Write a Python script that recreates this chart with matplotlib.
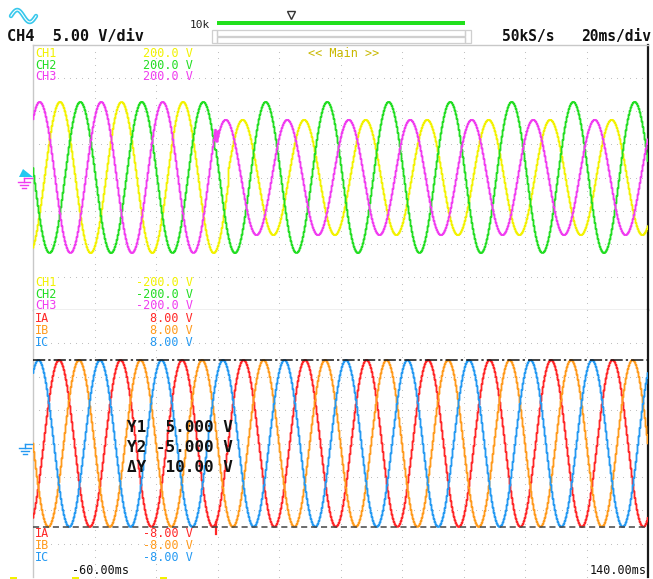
import matplotlib.pyplot as plt
from matplotlib.patches import Rectangle, Polygon
import numpy as np

# SCOPE CAPTURE: 3-phase voltages (top) and currents (bottom), 50 Hz

t_start, t_stop = -60.0, 140.0   # ms, 20 ms/div
freq = 50.0                      # Hz

# voltage channels, +-200 V full scale
volt_names = ['CH1', 'CH2', 'CH3']
volt_colors = ['#f2f200', '#22dd22', '#f03cf0']
volt_amp_pre = [114, 114, 114]
volt_amp_post = [87, 114, 87]
volt_peak_pre = [8.8, 15.4, 2.2]     # ms, time of peak inside a cycle
volt_peak_post = [8.2, 15.7, 2.7]
volt_switch = [3.6, -0.5, -0.5]      # ms, moment the amplitude steps
volt_scale = 200.0

# current channels, +-8 V full scale
curr_names = ['IA', 'IB', 'IC']
curr_colors = ['#ff2626', '#ff9a1c', '#2499f2']
curr_amp = [5.0, 5.0, 5.0]
curr_peak = [8.5, 15.0, 1.8]
curr_scale = 8.0

# disturbance at the switching instant
ch3_glitch_t = [-0.8, -0.2, 0.4]
ch3_glitch_v = [72, 54, 70]
ia_spike_t = -0.4
ia_spike_v = -5.45

# Y cursors on the current traces
cursor_y1, cursor_y2 = 5.0, -5.0

mono = 'DejaVu Sans Mono'
W, H = 653, 579


def wave(t, amp, tp):
    return amp * np.cos(2 * np.pi * freq * (t - tp) / 1000.0)


# one sample per screen column
t = np.arange(t_start, t_stop + 0.01, 200.0 / 615)

fig = plt.figure(figsize=(W / 100, H / 100), dpi=100)
fig.patch.set_facecolor('white')

left, right = 33, 648
top, mid, bottom = 45, 310, 577
ax_v = fig.add_axes([left / W, 1 - mid / H, (right - left) / W, (mid - top) / H])
ax_i = fig.add_axes([left / W, 1 - bottom / H, (right - left) / W, (bottom - mid) / H])

for ax, lim in [(ax_v, volt_scale), (ax_i, curr_scale)]:
    ax.set_xlim(t_start, t_stop)
    ax.set_ylim(-lim, lim)
    ax.set_xticks([])
    ax.set_yticks([])
    ax.set_facecolor('white')
    for s in ax.spines.values():
        s.set_color('#c8c8c8')
        s.set_linewidth(1.0)
    ax.spines['right'].set_color('#1a1a1a')
    ax.spines['right'].set_linewidth(1.6)
    # dotted graticule
    for xv in np.arange(t_start + 20, t_stop, 20):
        yy = np.arange(-lim, lim + 0.001, lim / 20)
        ax.scatter(np.full(yy.size, xv), yy, s=0.6, color='#b8b8b8', lw=0, zorder=0)
    for yv in np.linspace(-lim, lim, 9)[1:-1]:
        xx = np.arange(t_start, t_stop + 0.001, 2)
        ax.scatter(xx, np.full(xx.size, yv), s=0.6, color='#b8b8b8', lw=0, zorder=0)
ax_i.spines['top'].set_visible(False)
ax_i.spines['bottom'].set_visible(False)
ax_v.spines['bottom'].set_color('#b0b0b0')

# voltage traces
for k in range(3):
    pre = t < volt_switch[k]
    y = np.where(pre, wave(t, volt_amp_pre[k], volt_peak_pre[k]),
                 wave(t, volt_amp_post[k], volt_peak_post[k]))
    tt, yy = t, y
    if volt_names[k] == 'CH3':
        tt = np.concatenate([t[pre], ch3_glitch_t, t[~pre][2:]])
        yy = np.concatenate([y[pre], ch3_glitch_v, y[~pre][2:]])
    ax_v.plot(tt, yy, color=volt_colors[k], lw=1.3, drawstyle='steps-mid', zorder=3)

# current traces
for k in range(3):
    y = wave(t, curr_amp[k], curr_peak[k])
    ax_i.plot(t, y, color=curr_colors[k], lw=1.3, drawstyle='steps-mid', zorder=3)
ia_at = wave(ia_spike_t, curr_amp[0], curr_peak[0])
ax_i.plot([ia_spike_t, ia_spike_t], [ia_at, ia_spike_v], color=curr_colors[0], lw=1.6, zorder=3)

# cursors
ax_i.axhline(cursor_y1, color='#111111', lw=1.1, ls=(0, (8, 2, 1.5, 2)), zorder=4)
ax_i.axhline(cursor_y2, color='#444444', lw=1.1, ls=(0, (4, 2.5)), zorder=4)

# overlay in screen pixels for header, labels and symbols
ov = fig.add_axes([0, 0, 1, 1], zorder=5)
ov.set_xlim(0, W)
ov.set_ylim(H, 0)
ov.axis('off')
ov.patch.set_alpha(0)


def label(x, y, s, color, size=8.5, ha='left', weight='normal'):
    ov.text(x, y, s, color=color, fontsize=size, ha=ha, va='baseline',
            family=mono, fontweight=weight)


# header
sx = np.linspace(11, 36, 60)
sy = 16 - 6 * np.sin((sx - 11) / 25 * 2 * np.pi)
ov.plot(sx, sy, color='#38c8ec', lw=3.2, solid_capstyle='round')
ov.plot(sx, sy, color='white', lw=0.8)
label(7, 41, 'CH4  5.00 V/div', '#111111', size=11, weight='bold')
label(190, 28, '10k', '#222222', size=8)
ov.add_patch(Rectangle((217, 20.5), 248, 4.5, color='#22e01c', lw=0))
ov.plot([291], [15], marker='v', ms=6, mfc='white', mec='#333333', mew=1)
for r in [(212, 30, 5, 13), (217, 30, 248, 5.5), (217, 36.5, 248, 6), (465, 30, 6, 13)]:
    ov.add_patch(Rectangle(r[:2], r[2], r[3], fill=False, ec='#cfcfcf', lw=0.9))
label(502, 41, '50kS/s', '#111111', size=10.5, weight='bold')
label(651, 41, '20ms/div', '#111111', size=10.5, ha='right', weight='bold')

# channel scale labels
label(308, 57, '<< Main >>', '#c8b800')
for k in range(3):
    label(35, 57 + 11.7 * k, volt_names[k], volt_colors[k])
    label(193, 57 + 11.7 * k, '%.1f V' % volt_scale, volt_colors[k], ha='right')
    label(35, 286 + 11.7 * k, volt_names[k], volt_colors[k])
    label(193, 286 + 11.7 * k, '%.1f V' % -volt_scale, volt_colors[k], ha='right')
    label(35, 322 + 12 * k, curr_names[k], curr_colors[k])
    label(193, 322 + 12 * k, '%.2f V' % curr_scale, curr_colors[k], ha='right')
    label(35, 537 + 12 * k, curr_names[k], curr_colors[k])
    label(193, 537 + 12 * k, '%.2f V' % -curr_scale, curr_colors[k], ha='right')

# cursor readout
label(127, 432, 'Y1  %.3f V' % cursor_y1, '#111111', size=11.5, weight='bold')
label(127, 452, 'Y2 %.3f V' % cursor_y2, '#111111', size=11.5, weight='bold')
label(127, 472, '\u0394Y  %.2f V' % (cursor_y1 - cursor_y2), '#111111', size=11.5, weight='bold')

# time span at the bottom
label(72, 574, '%.2fms' % t_start, '#111111')
label(647, 574, '%.2fms' % t_stop, '#111111', ha='right')

# trigger and ground markers
ov.add_patch(Polygon([(23, 169), (33, 177), (19, 177)], closed=True, color='#22c8f0', lw=0))
for x0, y0, c in [(24, 178, '#f03cf0'), (25, 444, '#2499f2')]:
    ov.plot([x0, 32], [y0, y0], color=c, lw=1)
    ov.plot([x0, x0], [y0, y0 + 4], color=c, lw=1)
    ov.plot([x0 - 6, x0 + 6], [y0 + 4, y0 + 4], color=c, lw=1)
    ov.plot([x0 - 4, x0 + 4], [y0 + 7, y0 + 7], color=c, lw=1)
    ov.plot([x0 - 2, x0 + 2], [y0 + 10, y0 + 10], color=c, lw=1)

# clipped yellow marks along the bottom edge
for x0 in [10, 72, 160]:
    ov.add_patch(Rectangle((x0, 577), 7, 2, color='#f2f200', lw=0))

fig.savefig('out.png', dpi=100)
